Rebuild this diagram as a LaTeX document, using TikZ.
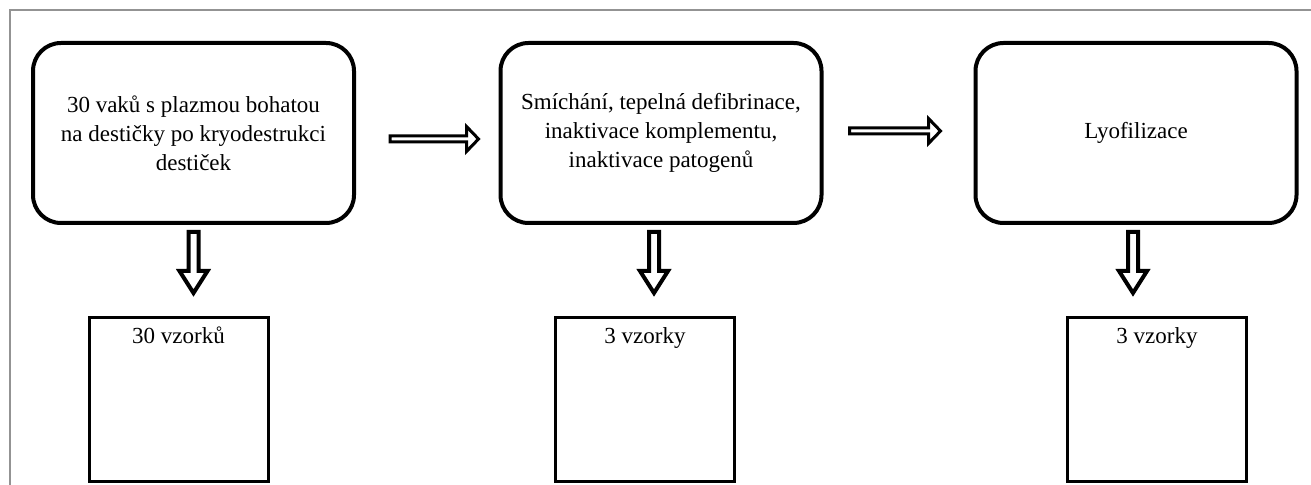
\documentclass[tikz,border=0pt]{standalone}
\usepackage{fontspec}
\setmainfont{Liberation Serif}
\usetikzlibrary{calc}
\newcommand\myharr[2]{\draw[harrow] ($(#1)+(0,-3)$) -- ($(#2)+(-12,-3)$) -- ($(#2)+(-12,-12.5)$) -- (#2) -- ($(#2)+(-12,12.5)$) -- ($(#2)+(-12,3)$) -- ($(#1)+(0,3)$) -- cycle;}
\newcommand\myvarr[2]{\draw[varrow] ($(#1)+(-5,0)$) -- ($(#2)+(-5,-22)$) -- ($(#2)+(-14,-22)$) -- (#2) -- ($(#2)+(14,-22)$) -- ($(#2)+(5,-22)$) -- ($(#1)+(5,0)$) -- cycle;}
\begin{document}
\begin{tikzpicture}[x=0.5pt,y=-0.5pt,
  bigbox/.style={draw, line width=2pt, rounded corners=14pt, minimum width=160.5pt, minimum height=90pt, align=center, font=\fontsize{11.5}{14.5}\selectfont, inner sep=0pt},
  smallbox/.style={draw, line width=1.5pt, minimum width=89.5pt, minimum height=82pt, inner sep=0pt},
  lbl/.style={font=\fontsize{11.5}{14.5}\selectfont, inner sep=0pt, anchor=base},
  harrow/.style={draw, line width=1.5pt, fill=white, line join=miter},
  varrow/.style={draw, line width=2pt, fill=white, line join=miter},
  frame/.style={draw=gray!85, line width=0.8pt}]
\useasboundingbox (0,0) rectangle (1311,485);
\draw[frame] (10,485) -- (10,10) -- (1311,10);

\node[bigbox] (b1) at (193.5,133) {30 vaků s plazmou bohatou\\na destičky po kryodestrukci\\destiček};
\node[bigbox] (b2) at (661,133) {Smíchání, tepelná defibrinace,\\inaktivace komplementu,\\inaktivace patogenů};
\node[bigbox] (b3) at (1136,133) {Lyofilizace};

\node[smallbox] (sa) at (178.5,400) {};
\node[smallbox] (sb) at (645,400) {};
\node[smallbox] (sc) at (1157,400) {};
\node[lbl] (la) at ($(sa.north)+(0,27)$) {30 vzorků};
\node[lbl] (lb) at ($(sb.north)+(0,27)$) {3 vzorky};
\node[lbl] (lc) at ($(sc.north)+(0,27)$) {3 vzorky};

\coordinate (h1s) at ($(b1.east)+(34,6)$);
\coordinate (h1e) at ($(b2.west)+(-20,6)$);
\coordinate (h2s) at ($(b2.east)+(26,-2)$);
\coordinate (h2e) at ($(b3.west)+(-33,-2)$);
\myharr{h1s}{h1e}
\myharr{h2s}{h2e}

\coordinate (v1s) at ($(b1.south)+(0,7)$);
\coordinate (v1e) at ($(b1.south)+(0,68)$);
\coordinate (v2s) at ($(b2.south)+(-7,7)$);
\coordinate (v2e) at ($(b2.south)+(-7,68)$);
\coordinate (v3s) at ($(b3.south)+(-3,7)$);
\coordinate (v3e) at ($(b3.south)+(-3,68)$);
\myvarr{v1s}{v1e}
\myvarr{v2s}{v2e}
\myvarr{v3s}{v3e}
\end{tikzpicture}
\end{document}
